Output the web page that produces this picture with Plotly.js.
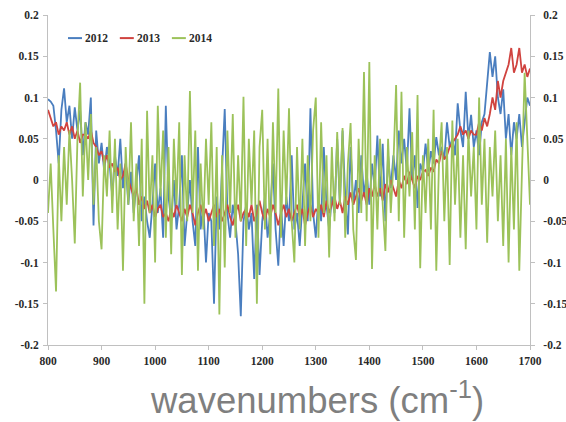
<!DOCTYPE html>
<html>
<head>
<meta charset="utf-8">
<script src="https://cdn.plot.ly/plotly-3.0.1.min.js"></script>
<style>html,body{margin:0;padding:0;background:#fff;}#chart{width:566px;height:422px;}</style>
</head>
<body>
<div id="chart"></div>
<script>
// wavenumber grid: start 800 cm-1, step 5 cm-1 (181 points up to 1700)
const xStart = 800;
const xStep = 5;
const seriesNames = ["2012", "2013", "2014"];
const xTickVals = [800, 900, 1000, 1100, 1200, 1300, 1400, 1500, 1600, 1700];
const yTickVals = [0.2, 0.15, 0.1, 0.05, 0, -0.05, -0.1, -0.15, -0.2];
const yTickText = ["0.2", "0.15", "0.1", "0.05", "0", "-0.05", "-0.1", "-0.15", "-0.2"];

const y2012 = [
0.098,0.095,0.09,0.06,0.02,0.085,0.111,0.07,0.09,0.05,
0.088,0.06,0.085,0.03,0.07,0.055,0.1,-0.055,0.06,0.02,
0.045,0.01,0.04,0.02,-0.02,0.03,0.005,0.05,-0.01,0.02,
-0.03,0.01,-0.04,0.0,0.03,-0.05,-0.02,-0.05,-0.07,-0.03,
0.02,-0.04,-0.01,-0.07,0.09,-0.02,-0.05,0.0,-0.06,-0.03,
0.03,-0.08,-0.04,0.0,-0.05,-0.08,0.04,-0.06,-0.03,-0.1,
-0.04,-0.05,-0.15,-0.02,-0.06,0.02,0.086,-0.04,-0.07,-0.03,
-0.05,-0.09,-0.165,-0.05,-0.03,-0.06,-0.04,-0.12,-0.03,-0.115,
-0.05,-0.02,-0.07,-0.04,0.02,-0.06,-0.104,-0.03,-0.08,-0.02,
-0.05,0.03,-0.06,-0.04,-0.08,-0.03,0.02,-0.05,0.087,-0.04,
-0.07,-0.02,-0.05,0.04,-0.03,-0.06,-0.02,-0.04,0.05,-0.03,
0.06,-0.02,-0.066,0.04,-0.03,0.0,-0.04,0.03,-0.02,0.01,
-0.03,0.02,-0.01,0.054,-0.02,0.044,-0.05,0.03,-0.01,0.03,
0.0,0.06,0.02,0.05,0.01,0.087,0.0,0.03,-0.034,0.02,
0.01,0.044,0.01,0.035,0.02,0.052,0.03,0.04,0.025,0.07,
0.04,0.05,0.03,0.093,0.06,0.04,0.107,0.05,0.079,0.04,
0.06,0.03,0.07,0.08,0.12,0.155,0.125,0.15,0.1,0.08,
0.11,0.05,0.08,0.03,0.07,0.05,0.08,0.04,0.07,0.1,
0.09];

const y2013 = [
0.085,0.075,0.065,0.07,0.055,0.065,0.06,0.07,0.055,0.065,
0.05,0.06,0.045,0.055,0.055,0.05,0.06,0.045,0.04,0.03,
0.035,0.02,0.03,0.015,0.02,0.01,0.015,0.0,0.005,0.02,
0.0,-0.01,-0.02,-0.01,-0.03,-0.02,-0.035,-0.025,-0.04,-0.03,
-0.045,-0.035,-0.03,-0.045,-0.04,-0.05,-0.035,-0.045,-0.03,-0.04,
-0.05,-0.035,-0.045,-0.03,-0.04,-0.055,-0.04,-0.03,-0.045,-0.035,
-0.05,-0.04,-0.03,-0.045,-0.035,-0.05,-0.04,-0.03,-0.045,-0.055,
-0.04,-0.03,-0.05,-0.04,-0.035,-0.045,-0.03,-0.05,-0.04,-0.025,
-0.04,-0.05,-0.035,-0.045,-0.03,-0.04,-0.055,-0.04,-0.03,-0.045,
-0.035,-0.05,-0.04,-0.03,-0.045,-0.035,-0.055,-0.04,-0.03,-0.045,
-0.035,-0.04,-0.03,-0.045,-0.025,-0.04,-0.03,-0.02,-0.035,-0.025,
-0.04,-0.02,-0.03,-0.015,-0.03,-0.02,-0.01,-0.025,-0.015,-0.03,
-0.01,-0.02,-0.005,-0.02,-0.01,-0.025,-0.005,-0.015,0.0,-0.01,
-0.02,0.0,-0.01,0.005,-0.005,0.01,0.0,-0.01,0.005,0.0,
0.01,0.012,0.005,0.015,0.01,0.025,0.02,0.035,0.025,0.03,
0.04,0.045,0.05,0.055,0.065,0.055,0.06,0.05,0.06,0.055,
0.055,0.07,0.06,0.075,0.065,0.08,0.1,0.085,0.12,0.1,
0.12,0.13,0.14,0.16,0.13,0.14,0.16,0.13,0.14,0.125,
0.135];

const y2014 = [
-0.04,0.02,-0.06,-0.135,0.03,-0.05,0.04,-0.03,0.06,0.0,
-0.077,0.05,0.118,-0.02,0.07,0.0,0.08,-0.03,0.04,-0.05,
-0.084,0.03,-0.02,0.06,-0.04,0.05,-0.06,0.02,-0.11,0.04,
-0.03,0.07,-0.05,0.02,-0.08,0.05,-0.15,0.084,-0.04,0.03,
-0.1,0.09,-0.02,0.06,-0.07,0.04,-0.09,0.05,-0.03,0.07,
-0.115,0.03,-0.05,0.108,-0.04,0.06,-0.11,0.02,-0.06,0.05,
-0.03,0.07,-0.08,0.04,-0.163,0.03,-0.106,0.06,-0.04,0.08,
-0.07,0.03,-0.05,0.101,-0.08,0.05,-0.03,0.06,-0.15,0.04,
0.085,-0.06,0.05,-0.09,0.07,-0.04,0.111,-0.07,0.06,-0.03,
0.087,-0.05,-0.1,0.04,-0.06,0.05,-0.08,0.03,-0.05,0.06,
0.1,-0.07,0.07,-0.04,0.03,-0.094,0.04,-0.05,0.058,-0.03,
0.063,-0.07,0.02,0.069,-0.06,-0.097,0.05,-0.04,0.131,-0.05,
0.143,-0.108,0.03,-0.06,0.05,-0.03,-0.086,0.05,-0.04,0.02,
0.115,-0.05,0.107,-0.07,0.04,-0.02,0.058,-0.06,0.103,-0.107,
0.03,-0.04,0.05,-0.06,0.085,-0.11,0.02,0.07,-0.05,0.04,
-0.103,0.072,-0.03,0.05,-0.07,0.03,-0.084,0.06,-0.02,0.04,
-0.06,0.1,-0.03,0.05,-0.076,0.04,-0.02,0.06,-0.05,0.03,
-0.08,0.05,-0.1,0.04,-0.06,0.07,-0.11,0.02,0.13,0.05,
-0.03];

const seriesValues = [y2012, y2013, y2014];
const seriesColors = ["#4a7ebf", "#d0433f", "#9cc25a"];
const seriesAxes = ["y", "y", "y2"];

const traces = seriesValues.map((vals, i) => ({
  type: "scatter",
  mode: "lines",
  name: seriesNames[i],
  x0: xStart,
  dx: xStep,
  y: vals,
  yaxis: seriesAxes[i],
  line: {color: seriesColors[i], width: 1.8},
  hoverinfo: "skip",
  showlegend: false
}));

const serifBold = {family: "Liberation Serif, Times New Roman, serif", size: 11.5, color: "#2a2a2a", weight: "bold"};

// Excel-style legend: short coloured key line followed by the series name
const legendKeyX = [0.0415, 0.149, 0.257];
const legendY = 0.93;
const legendShapes = seriesNames.map((nm, i) => ({
  type: "line", xref: "paper", yref: "paper",
  x0: legendKeyX[i], x1: legendKeyX[i] + 0.029, y0: legendY, y1: legendY,
  line: {color: seriesColors[i], width: 2}
}));
const legendAnnotations = seriesNames.map((nm, i) => ({
  text: nm,
  xref: "paper", yref: "paper",
  x: legendKeyX[i] + 0.031, y: legendY, xanchor: "left", yanchor: "middle",
  showarrow: false,
  font: serifBold
}));

const axisCommon = {
  range: [-0.2, 0.2],
  tickvals: yTickVals, ticktext: yTickText,
  showgrid: false, zeroline: false,
  showline: true, linecolor: "#c0c0c0", linewidth: 1,
  ticks: "outside", ticklen: 4, tickcolor: "#c0c0c0",
  tickfont: serifBold
};

const layout = {
  width: 566,
  height: 422,
  margin: {l: 48, r: 36, t: 15, b: 77},
  paper_bgcolor: "#ffffff",
  plot_bgcolor: "#ffffff",
  showlegend: false,
  xaxis: {
    range: [800, 1700],
    tickvals: xTickVals,
    showgrid: false, zeroline: false,
    showline: true, linecolor: "#c0c0c0", linewidth: 1,
    ticks: "outside", ticklen: 4, tickcolor: "#c0c0c0",
    ticklabelstandoff: 1,
    tickfont: serifBold
  },
  yaxis: Object.assign({ticklabelstandoff: 2}, axisCommon),
  yaxis2: Object.assign({overlaying: "y", side: "right", ticklabelstandoff: 6}, axisCommon),
  shapes: legendShapes,
  annotations: legendAnnotations.concat([{
    text: "wavenumbers (cm<sup>-1</sup>)",
    xref: "paper", yref: "paper",
    x: 0.559, y: -0.162, xanchor: "center", yanchor: "middle",
    showarrow: false,
    font: {family: "Liberation Sans, Arial, sans-serif", size: 36.5, color: "#7f7f7f"}
  }])
};

Plotly.newPlot("chart", traces, layout, {staticPlot: true, displayModeBar: false});
</script>
</body>
</html>
